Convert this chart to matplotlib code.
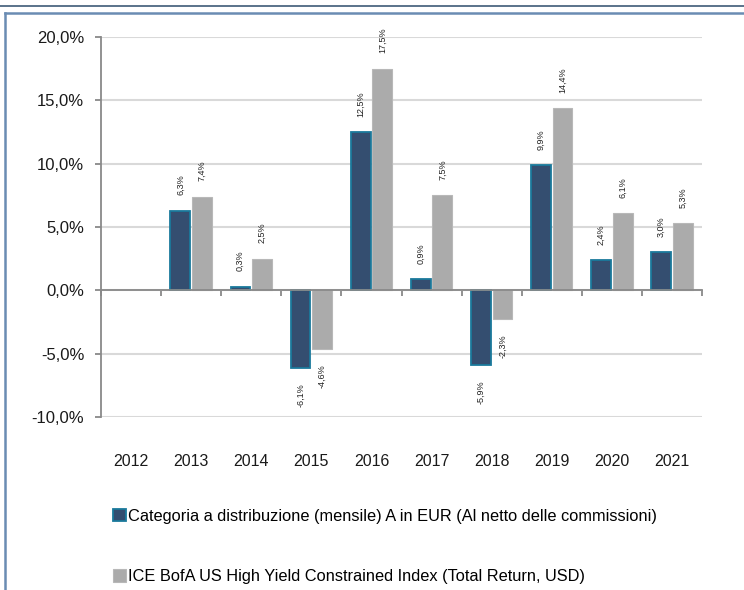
import numpy as np
import matplotlib
matplotlib.use("Agg")
import matplotlib.pyplot as plt
from matplotlib.lines import Line2D

plt.rcParams['font.family'] = ['Liberation Sans', 'DejaVu Sans']

years = ['2012', '2013', '2014', '2015', '2016', '2017', '2018', '2019', '2020', '2021']
fund = [np.nan, 6.3, 0.3, -6.1, 12.5, 0.9, -5.9, 9.9, 2.4, 3.0]
index = [np.nan, 7.4, 2.5, -4.6, 17.5, 7.5, -2.3, 14.4, 6.1, 5.3]
fund_name = 'Categoria a distribuzione (mensile) A in EUR (Al netto delle commissioni)'
index_name = 'ICE BofA US High Yield Constrained Index (Total Return, USD)'
yticks = [-10, -5, 0, 5, 10, 15, 20]

dark = '#344e70'
dark_edge = '#1a7a9c'
grey = '#ababab'
axis_grey = '#898989'

fig = plt.figure(figsize=(7.44, 5.90), dpi=100)
ax = fig.add_axes([101/744, 1-417/590, 601/744, 380/590])

x = np.arange(len(years))
w = 0.33
b1 = ax.bar(x - 0.18, fund, w, color=dark, edgecolor=dark_edge, linewidth=1.3, zorder=3, label=fund_name)
b2 = ax.bar(x + 0.18, index, w, color=grey, edgecolor='#b8b8b8', linewidth=0.8, zorder=3, label=index_name)

def fmt(v):
    return ('%.1f' % v).replace('.', ',') + '%'

for bars, vals in ((b1, fund), (b2, index)):
    for r, v in zip(bars, vals):
        if np.isnan(v):
            continue
        cx = r.get_x() + r.get_width()/2
        if v >= 0:
            ax.annotate(fmt(v), (cx, v), xytext=(0, 11), textcoords='offset points',
                        rotation=90, ha='center', va='bottom', fontsize=6.5, color='#222222')
        else:
            ax.annotate(fmt(v), (cx, v), xytext=(0, -11), textcoords='offset points',
                        rotation=90, ha='center', va='top', fontsize=6.5, color='#222222')

ax.set_xlim(-0.5, len(years) - 0.5)
ax.set_ylim(-10, 20)
ax.set_yticks(yticks)
ax.set_yticklabels([('%.1f' % t).replace('.', ',') + '%' for t in yticks], fontsize=12, color='#1a1a1a')
ax.yaxis.grid(True, color='#d9d9d9', linewidth=1.5, zorder=0)
ax.set_axisbelow(True)

for s in ('top', 'right'):
    ax.spines[s].set_visible(False)
ax.spines['left'].set_color(axis_grey)
ax.spines['left'].set_linewidth(1.3)
ax.spines['bottom'].set_position(('data', 0))
ax.spines['bottom'].set_color(axis_grey)
ax.spines['bottom'].set_linewidth(1.3)
ax.spines['bottom'].set_zorder(4)
ax.set_xticks(np.arange(len(years) + 1) - 0.5)
ax.set_xticklabels([])
ax.tick_params(axis='x', length=4, width=1.3, color=axis_grey, direction='out')
ax.tick_params(axis='y', length=4, width=1.3, color=axis_grey, pad=8)

for i, y in enumerate(years):
    ax.text(i, -0.118, y, transform=ax.get_xaxis_transform(), ha='center', va='center',
            fontsize=11.5, color='#1a1a1a')

fig.legend(handles=[b1, b2], loc='upper left', bbox_to_anchor=(106/744, 1-502/590),
           frameon=False, fontsize=11.8, handlelength=0.8, handleheight=0.8,
           handletextpad=0.15, labelspacing=2.8, borderaxespad=0)

# frame lines
fig.add_artist(Line2D([0, 1], [1-6/590, 1-6/590], color='#2d4b6b', linewidth=1.1, transform=fig.transFigure))
fig.add_artist(Line2D([5/744, 1], [1-12.5/590, 1-12.5/590], color='#6a8cb3', linewidth=1.8, transform=fig.transFigure))
fig.add_artist(Line2D([5/744, 5/744], [0, 1-12.5/590], color='#6a8cb3', linewidth=1.8, transform=fig.transFigure))

fig.savefig('out.png', dpi=100)
